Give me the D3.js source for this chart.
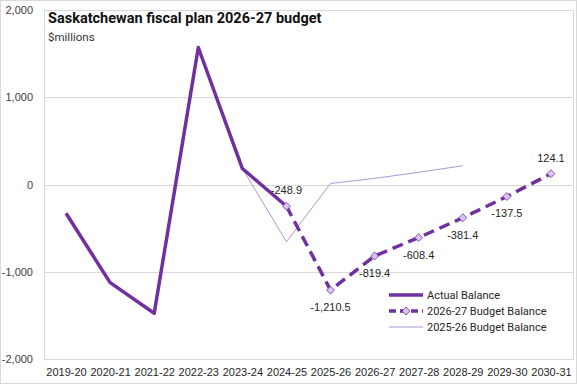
<!DOCTYPE html>
<html>
<head>
<meta charset="utf-8">
<script src="https://cdn.jsdelivr.net/npm/d3@7"></script>
<style>
  body { margin: 0; background: #fff; }
  svg { display: block; }
</style>
</head>
<body>
<svg id="chart"></svg>
<script>
const years = ['2019-20', '2020-21', '2021-22', '2022-23', '2023-24', '2024-25',
  '2025-26', '2026-27', '2027-28', '2028-29', '2029-30', '2030-31'];

// Actual Balance
const actualYears = ['2019-20', '2020-21', '2021-22', '2022-23', '2023-24', '2024-25'];
const actualValues = [-330, -1125, -1475, 1570, 183, -248.9];

// 2026-27 Budget Balance
const budget2627Years = ['2024-25', '2025-26', '2026-27', '2027-28', '2028-29', '2029-30', '2030-31'];
const budget2627Values = [-248.9, -1210.5, -819.4, -608.4, -381.4, -137.5, 124.1];

// 2025-26 Budget Balance
const budget2526Years = ['2023-24', '2024-25', '2025-26', '2026-27', '2027-28', '2028-29'];
const budget2526Values = [183, -656, 12, 70, 140, 215];

const yTicks = [-2000, -1000, 0, 1000, 2000];

const width = 577, height = 384;
const margin = { top: 10, right: 4, bottom: 25, left: 44 };
const purple = '#7030a0';
const lightPurple = '#9b7bc8';

// plain hyphen for negatives, like Excel
const locale = d3.formatLocale({ decimal: '.', thousands: ',', grouping: [3], currency: ['$', ''], minus: '-' });
const fmtInt = locale.format(',');
const fmtDec = locale.format(',.1f');

const svg = d3.select('#chart').attr('width', width).attr('height', height);

// outer chart border
svg.append('rect')
  .attr('x', 0.5).attr('y', 0.5)
  .attr('width', width - 1).attr('height', height - 1)
  .attr('fill', '#fff').attr('stroke', '#d9d9d9');

const x = d3.scalePoint()
  .domain(years)
  .range([margin.left, width - margin.right])
  .padding(0.5);

const y = d3.scaleLinear()
  .domain([-2000, 2000])
  .range([height - margin.bottom, margin.top]);

// gridlines
svg.append('g')
  .selectAll('line')
  .data(yTicks)
  .join('line')
  .attr('x1', margin.left).attr('x2', width - margin.right)
  .attr('y1', d => Math.round(y(d)) + 0.5).attr('y2', d => Math.round(y(d)) + 0.5)
  .attr('stroke', '#d9d9d9');

// plot area border
svg.append('rect')
  .attr('x', margin.left + 0.5).attr('y', Math.round(y(2000)) + 0.5)
  .attr('width', width - margin.right - margin.left)
  .attr('height', Math.round(y(-2000)) - Math.round(y(2000)))
  .attr('fill', 'none').attr('stroke', '#d9d9d9');

// y axis labels
const yAxis = g => g
  .attr('transform', `translate(${margin.left},0)`)
  .call(d3.axisLeft(y).tickValues(yTicks).tickSize(0).tickPadding(11).tickFormat(fmtInt))
  .call(g => g.select('.domain').remove())
  .call(g => g.selectAll('text')
    .attr('font-family', 'Liberation Sans, Arial, sans-serif')
    .attr('font-size', 11).attr('fill', '#404040'));

// x axis labels
const xAxis = g => g
  .attr('transform', `translate(0,${height - margin.bottom})`)
  .call(d3.axisBottom(x).tickSize(0).tickPadding(9))
  .call(g => g.select('.domain').remove())
  .call(g => g.selectAll('text')
    .attr('font-family', 'Liberation Sans, Arial, sans-serif')
    .attr('font-size', 11).attr('fill', '#262626'));

svg.append('g').call(yAxis);
svg.append('g').call(xAxis);

// title
svg.append('text')
  .attr('x', 48).attr('y', 23)
  .attr('font-family', 'Roboto, Liberation Sans, sans-serif')
  .attr('font-weight', 'bold').attr('font-size', 14.5)
  .attr('fill', '#111')
  .text('Saskatchewan fiscal plan 2026-27 budget');

svg.append('text')
  .attr('x', 48).attr('y', 41)
  .attr('font-family', 'Roboto, Liberation Sans, sans-serif')
  .attr('font-size', 11.5)
  .attr('fill', '#333')
  .text('$millions');

const line = d3.line().x(d => x(d[0])).y(d => y(d[1]));

// 2025-26 Budget Balance
svg.append('path')
  .datum(d3.zip(budget2526Years, budget2526Values))
  .attr('d', line)
  .attr('fill', 'none')
  .attr('stroke', lightPurple)
  .attr('stroke-width', 0.8);

// Actual Balance
svg.append('path')
  .datum(d3.zip(actualYears, actualValues))
  .attr('d', line)
  .attr('fill', 'none')
  .attr('stroke', purple)
  .attr('stroke-width', 3.5)
  .attr('stroke-linejoin', 'round');

// 2026-27 Budget Balance
const b2627 = d3.zip(budget2627Years, budget2627Values);
svg.append('path')
  .datum(b2627)
  .attr('d', line)
  .attr('fill', 'none')
  .attr('stroke', purple)
  .attr('stroke-width', 3.5)
  .attr('stroke-dasharray', '11,6');

const diamond = d3.symbol().type(d3.symbolDiamond2).size(40);
svg.append('g')
  .selectAll('path')
  .data(b2627)
  .join('path')
  .attr('d', diamond)
  .attr('transform', d => `translate(${x(d[0])},${y(d[1])})`)
  .attr('fill', '#d9c3f0')
  .attr('stroke', purple)
  .attr('stroke-width', 0.8);

// data labels
svg.append('g')
  .selectAll('text')
  .data(b2627)
  .join('text')
  .attr('x', d => x(d[0]))
  .attr('y', d => y(d[1]) + ((d[1] > 0 || d[0] === '2024-25') ? -12 : 21))
  .attr('text-anchor', 'middle')
  .attr('font-family', 'Liberation Sans, Arial, sans-serif')
  .attr('font-size', 11)
  .attr('fill', '#262626')
  .text(d => fmtDec(d[1]));

// legend
const legendItems = [
  { name: 'Actual Balance', width: 3.5, dash: null, marker: false, color: purple },
  { name: '2026-27 Budget Balance', width: 3.5, dash: '7,4', marker: true, color: purple },
  { name: '2025-26 Budget Balance', width: 0.8, dash: null, marker: false, color: lightPurple }
];
const legend = svg.append('g').attr('transform', 'translate(389,295)');
legendItems.forEach((d, i) => {
  const g = legend.append('g').attr('transform', `translate(0,${i * 16})`);
  g.append('line')
    .attr('x1', 0).attr('x2', 34)
    .attr('stroke', d.color).attr('stroke-width', d.width)
    .attr('stroke-dasharray', d.dash);
  if (d.marker) {
    g.append('path').attr('d', diamond).attr('transform', 'translate(17,0)')
      .attr('fill', '#d9c3f0').attr('stroke', purple).attr('stroke-width', 0.8);
  }
  g.append('text')
    .attr('x', 38).attr('y', 4)
    .attr('font-family', 'Roboto, Liberation Sans, sans-serif')
    .attr('font-size', 11)
    .attr('fill', '#262626')
    .text(d.name);
});
</script>
</body>
</html>
